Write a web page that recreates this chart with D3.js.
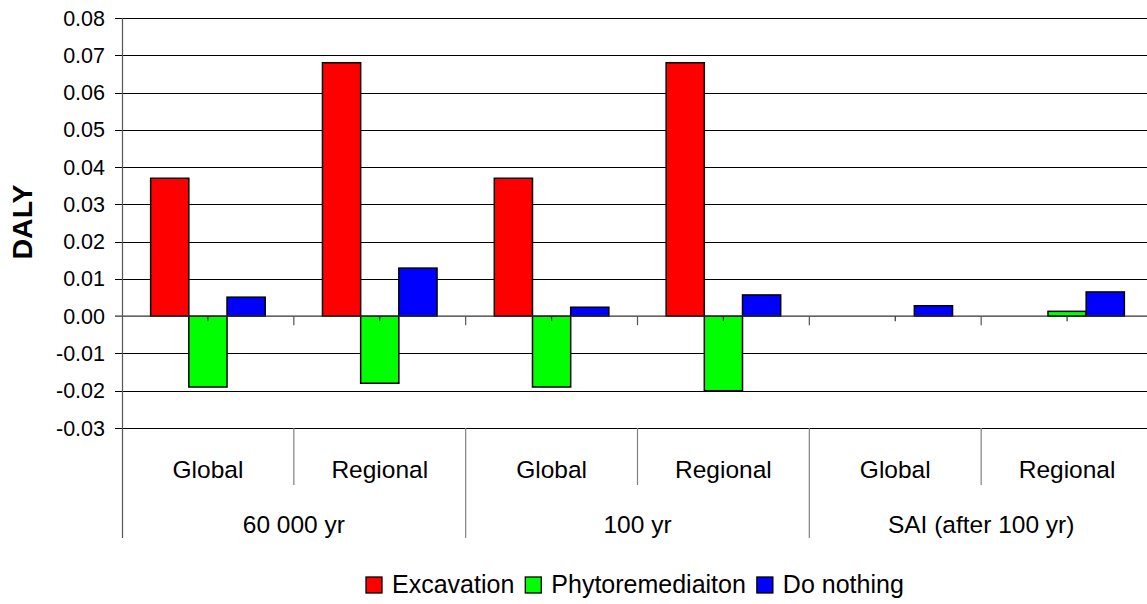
<!DOCTYPE html>
<html>
<head>
<meta charset="utf-8">
<script src="https://cdn.jsdelivr.net/npm/d3@7"></script>
<style>
  body { margin: 0; background: #fff; }
  text { font-family: "Liberation Sans", Arial, sans-serif; }
</style>
</head>
<body>
<div id="chart"></div>
<script>
// data
const outerGroups = ["60 000 yr", "100 yr", "SAI (after 100 yr)"];
const innerLabels = ["Global", "Regional", "Global", "Regional", "Global", "Regional"];
const seriesNames = ["Excavation", "Phytoremediaiton", "Do nothing"];
const excavation = [0.037, 0.068, 0.037, 0.068, 0, 0];
const phytoremediation = [-0.019, -0.018, -0.019, -0.020, 0, 0.0013];
const doNothing = [0.0051, 0.0129, 0.0024, 0.0057, 0.0028, 0.0065];
const yTicks = [-0.03, -0.02, -0.01, 0, 0.01, 0.02, 0.03, 0.04, 0.05, 0.06, 0.07, 0.08];
const colors = ["#ff0000", "#00ff00", "#0000ff"];

const width = 1147, height = 604;
const plotLeft = 122, plotRight = 1153, plotTop = 18, plotBottom = 428;

const svg = d3.select("#chart").append("svg")
    .attr("width", width)
    .attr("height", height);

const x = d3.scaleBand()
    .domain(d3.range(innerLabels.length))
    .range([plotLeft, plotRight])
    .padding(0);

const xs = d3.scaleBand()
    .domain(d3.range(seriesNames.length))
    .range([0, x.bandwidth()])
    .paddingInner(0)
    .paddingOuter(0.75);

const y = d3.scaleLinear()
    .domain([-0.03, 0.08])
    .range([plotBottom, plotTop]);

const fmt = d3.formatLocale({decimal: ".", thousands: ",", grouping: [3], currency: ["", ""], minus: "-"}).format(".2f");

// gridlines + y tick marks
svg.append("g").selectAll("line")
    .data(yTicks.filter(d => d !== 0))
    .join("line")
    .attr("x1", 115).attr("x2", width)
    .attr("y1", d => Math.round(y(d)) + 0.5).attr("y2", d => Math.round(y(d)) + 0.5)
    .attr("stroke", "#000").attr("stroke-width", 1);

svg.append("g").selectAll("text")
    .data(yTicks)
    .join("text")
    .attr("x", 105)
    .attr("y", d => y(d))
    .attr("dy", "0.35em")
    .attr("text-anchor", "end")
    .attr("font-size", "21.5px")
    .attr("fill", "#000")
    .text(d => fmt(d));

// bars
const series = [excavation, phytoremediation, doNothing];
const barData = [];
series.forEach((vals, s) => vals.forEach((v, i) => barData.push({i, s, v})));

svg.append("g").selectAll("rect")
    .data(barData.filter(d => d.v !== 0))
    .join("rect")
    .attr("x", d => x(d.i) + xs(d.s))
    .attr("width", xs.bandwidth())
    .attr("y", d => y(Math.max(0, d.v)))
    .attr("height", d => Math.abs(y(d.v) - y(0)))
    .attr("fill", d => colors[d.s])
    .attr("stroke", "#000")
    .attr("stroke-width", 1.5);

// zero line and its ticks
svg.append("line")
    .attr("x1", 115).attr("x2", width)
    .attr("y1", y(0)).attr("y2", y(0))
    .attr("stroke", "#333").attr("stroke-width", 1.2);

svg.append("g").selectAll("line")
    .data(d3.range(1, innerLabels.length))
    .join("line")
    .attr("x1", d => x(d)).attr("x2", d => x(d))
    .attr("y1", y(0)).attr("y2", y(0) + 9)
    .attr("stroke", "#555").attr("stroke-width", 1.2);

svg.append("g").selectAll("line")
    .data(d3.range(innerLabels.length))
    .join("line")
    .attr("x1", d => x(d) + x.bandwidth() / 2).attr("x2", d => x(d) + x.bandwidth() / 2)
    .attr("y1", y(0)).attr("y2", y(0) + 5)
    .attr("stroke", "#333").attr("stroke-width", 1.2);

// y axis line
svg.append("line")
    .attr("x1", plotLeft + 0.5).attr("x2", plotLeft + 0.5)
    .attr("y1", plotTop).attr("y2", 538)
    .attr("stroke", "#555").attr("stroke-width", 1.2);

// multi-level category axis
svg.append("g").selectAll("line")
    .data(d3.range(1, innerLabels.length))
    .join("line")
    .attr("x1", d => x(d)).attr("x2", d => x(d))
    .attr("y1", plotBottom).attr("y2", d => d % 2 === 0 ? 538 : 485)
    .attr("stroke", "#808080").attr("stroke-width", 1.2);

svg.append("g").selectAll("text")
    .data(innerLabels)
    .join("text")
    .attr("x", (d, i) => x(i) + x.bandwidth() / 2)
    .attr("y", 478)
    .attr("text-anchor", "middle")
    .attr("font-size", "24.5px")
    .text(d => d);

svg.append("g").selectAll("text")
    .data(outerGroups)
    .join("text")
    .attr("x", (d, g) => x(g * 2) + x.bandwidth())
    .attr("y", 533)
    .attr("text-anchor", "middle")
    .attr("font-size", "24.5px")
    .text(d => d);

// y title
svg.append("text")
    .attr("transform", "translate(32,222) rotate(-90)")
    .attr("text-anchor", "middle")
    .attr("font-size", "28.5px")
    .attr("font-weight", "bold")
    .text("DALY");

// legend
const legend = svg.append("g");
let lx = 366;
seriesNames.forEach((name, s) => {
    legend.append("rect")
        .attr("x", lx).attr("y", 577)
        .attr("width", 16).attr("height", 16)
        .attr("fill", colors[s])
        .attr("stroke", "#000").attr("stroke-width", 1.3);
    const t = legend.append("text")
        .attr("x", lx + 26).attr("y", 593)
        .attr("font-size", "25px")
        .text(name);
    lx += 26 + t.node().getComputedTextLength() + 11;
});
</script>
</body>
</html>
